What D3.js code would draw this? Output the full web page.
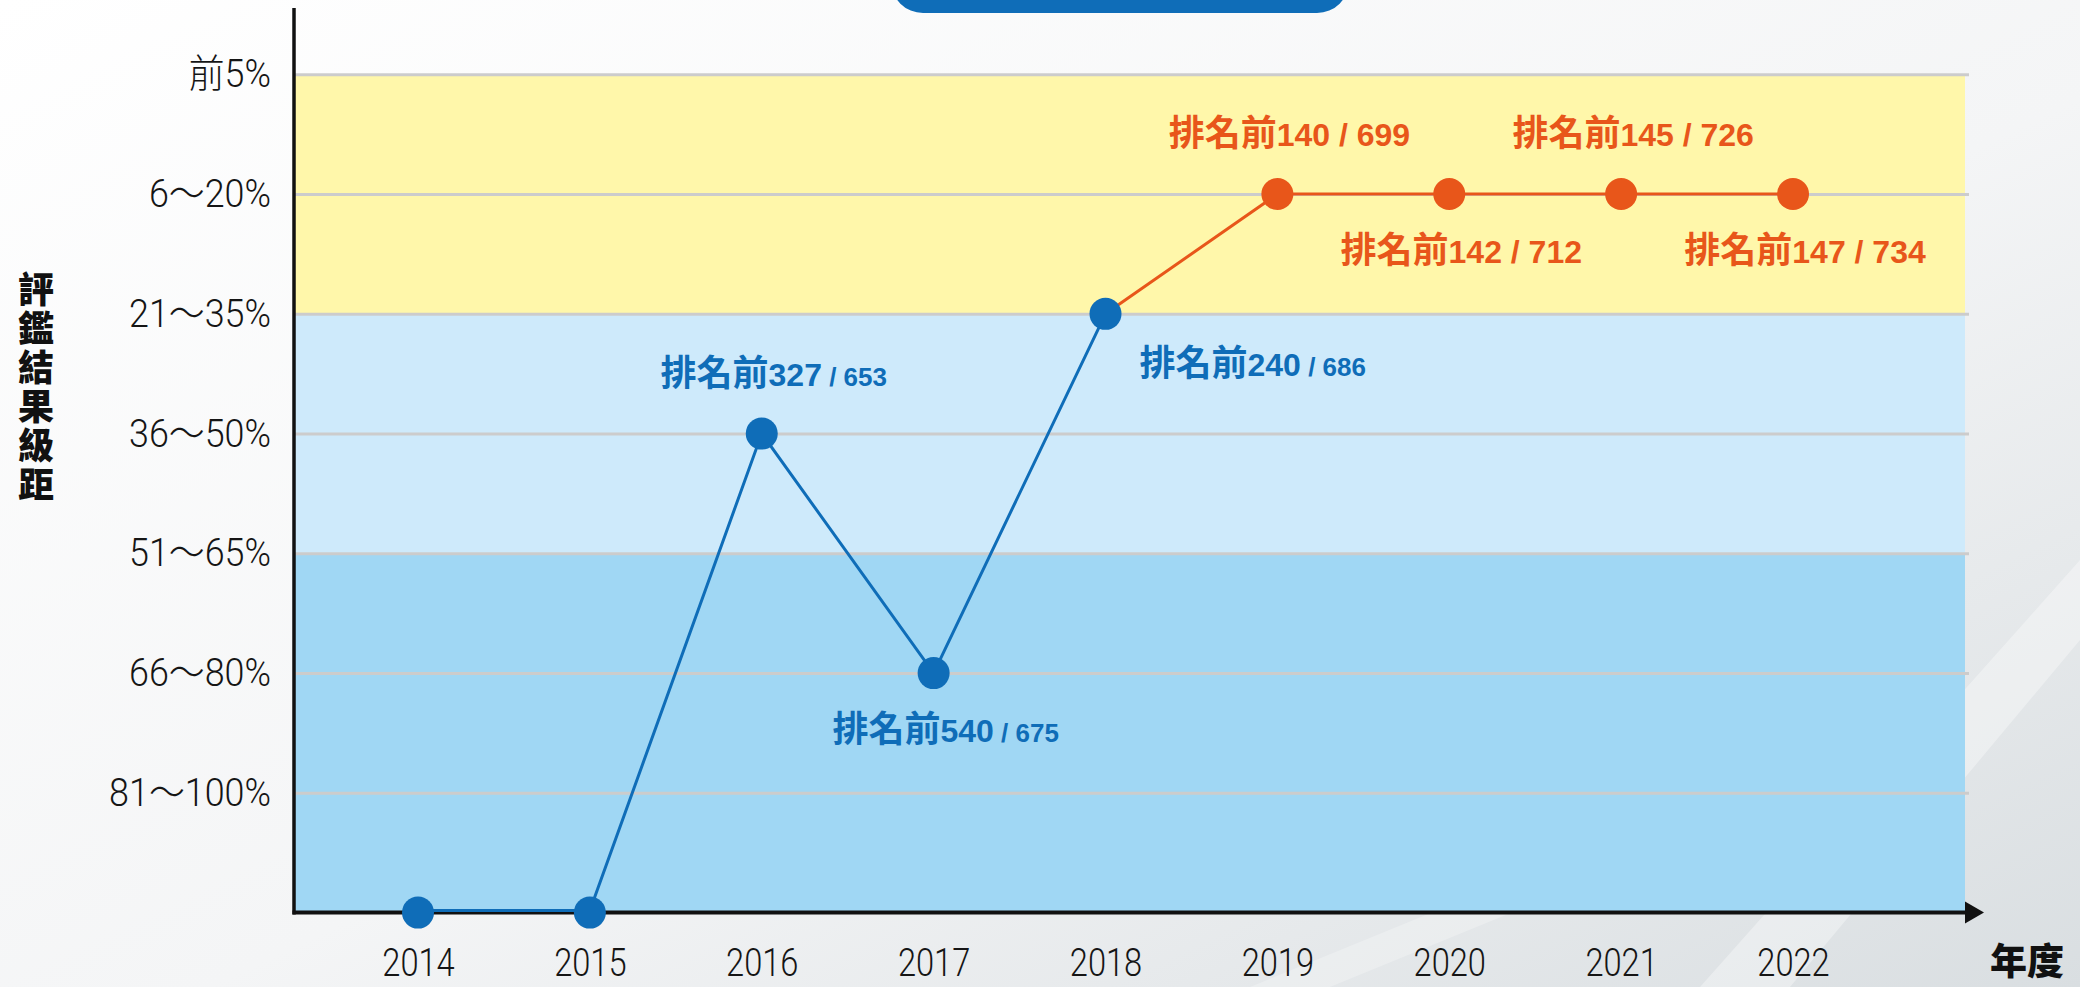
<!DOCTYPE html>
<html>
<head>
<meta charset="utf-8">
<script src="https://cdn.jsdelivr.net/npm/d3@7"></script>
<style>
  html, body { margin: 0; padding: 0; background: #ffffff; }
  svg { display: block; }
</style>
</head>
<body>
<div id="chart"></div>
<script>
// ---- data ----
const years = ['2014', '2015', '2016', '2017', '2018', '2019', '2020', '2021', '2022'];
// level labels from bottom (worst) to top (best)
const levelLabels = ['81～100%', '66～80%', '51～65%', '36～50%', '21～35%', '6～20%', '前5%'];
// level reached each year (null = not ranked, sits on the x axis)
const yearLevels = [null, null, '36～50%', '66～80%', '21～35%', '6～20%', '6～20%', '6～20%', '6～20%'];
const rankPlaces = [null, null, 327, 540, 240, 140, 142, 145, 147];
const rankTotals = [null, null, 653, 675, 686, 699, 712, 726, 734];
const orangeFrom = '2019';   // years from here on are drawn in orange

// where each label sits relative to its point
const labelSide = [null, null, 'above', 'below', 'right', 'above', 'below', 'above', 'below'];

class RankLineChart {
    constructor(_config) {
        this.config = {
            parentElement: _config.parentElement,
            containerWidth: 2080,
            containerHeight: 987,
            axisX: 294,
            axisY: 912.6,
            topY: 74.3,
            bandRight: 1965,
            gridRight: 1969,
            arrowTip: 1984,
            xFirst: 418,
            xLast: 1793,
            ySqueeze: 0.92,     // horizontal squeeze to mimic the condensed tick font
            xSqueeze: 0.86,
            blue: '#0f6db8',
            orange: '#e8561a'
        };
        this.initVis();
    }

    initVis() {
        let vis = this;
        const c = vis.config;

        vis.svg = d3.select(c.parentElement)
            .append('svg')
            .attr('width', c.containerWidth)
            .attr('height', c.containerHeight);

        // background gradient
        const defs = vis.svg.append('defs');
        const grad = defs.append('linearGradient')
            .attr('id', 'bg')
            .attr('x1', '0').attr('y1', '0')
            .attr('x2', '1').attr('y2', '1');
        grad.append('stop').attr('offset', '0%').attr('stop-color', '#ffffff');
        grad.append('stop').attr('offset', '55%').attr('stop-color', '#f4f5f6');
        grad.append('stop').attr('offset', '100%').attr('stop-color', '#d9dee1');

        vis.svg.append('rect')
            .attr('width', c.containerWidth)
            .attr('height', c.containerHeight)
            .attr('fill', 'url(#bg)');

        // faint diagonal streaks in the lower right
        vis.svg.append('path')
            .attr('d', 'M1700,987 L2080,560 L2080,640 L1790,987 Z')
            .attr('fill', '#ffffff').attr('opacity', 0.35);
        vis.svg.append('path')
            .attr('d', 'M1250,987 L1560,860 L1640,860 L1330,987 Z')
            .attr('fill', '#ffffff').attr('opacity', 0.25);

        // title box cut off at the top
        vis.svg.append('rect')
            .attr('x', 891).attr('y', -60)
            .attr('width', 458).attr('height', 73)
            .attr('rx', 32)
            .attr('fill', c.blue);

        // scales
        vis.xScale = d3.scalePoint()
            .domain(years)
            .range([c.xFirst, c.xLast]);

        vis.yScale = d3.scalePoint()
            .domain([''].concat(levelLabels))
            .range([c.axisY, c.topY]);

        const y = vis.yScale;

        // coloured bands
        const bands = [
            { from: '前5%', to: '21～35%', color: '#fff7aa' },
            { from: '21～35%', to: '51～65%', color: '#ceeafb' },
            { from: '51～65%', to: '', color: '#a0d7f4' }
        ];
        vis.svg.selectAll('.band')
            .data(bands)
            .enter().append('rect')
            .attr('class', 'band')
            .attr('x', c.axisX)
            .attr('y', d => y(d.from))
            .attr('width', c.bandRight - c.axisX)
            .attr('height', d => y(d.to) - y(d.from))
            .attr('fill', d => d.color);

        const tickFont = "Roboto, 'Noto Sans CJK TC', sans-serif";

        // y axis with gridlines
        vis.yAxis = d3.axisLeft(y)
            .tickValues(levelLabels)
            .tickSizeInner(-(c.gridRight - c.axisX))
            .tickSizeOuter(0)
            .tickPadding(23);

        const yG = vis.svg.append('g')
            .attr('class', 'y-axis')
            .attr('transform', `translate(${c.axisX},0)`)
            .call(vis.yAxis);
        yG.select('.domain').remove();
        yG.selectAll('.tick line')
            .attr('stroke', '#cccccc')
            .attr('stroke-width', 3);
        yG.selectAll('.tick text')
            .attr('fill', '#151515')
            .attr('x', -23 / c.ySqueeze)
            .attr('transform', `scale(${c.ySqueeze},1)`)
            .style('font-family', tickFont)
            .style('font-weight', 300)
            .style('font-size', '39px');

        // x axis labels
        vis.xAxis = d3.axisBottom(vis.xScale)
            .tickSize(0)
            .tickPadding(36);
        const xG = vis.svg.append('g')
            .attr('class', 'x-axis')
            .attr('transform', `translate(0,${c.axisY})`)
            .call(vis.xAxis);
        xG.select('.domain').remove();
        xG.selectAll('.tick text')
            .attr('fill', '#151515')
            .attr('transform', `scale(${c.xSqueeze},1)`)
            .style('font-family', tickFont)
            .style('font-weight', 300)
            .style('font-size', '38px');

        // axis lines
        vis.svg.append('line')
            .attr('x1', c.axisX).attr('x2', c.axisX)
            .attr('y1', 8).attr('y2', c.axisY + 2)
            .attr('stroke', '#111').attr('stroke-width', 3.5);
        vis.svg.append('line')
            .attr('x1', c.axisX - 1.5).attr('x2', c.bandRight + 2)
            .attr('y1', c.axisY).attr('y2', c.axisY)
            .attr('stroke', '#111').attr('stroke-width', 4);
        vis.svg.append('path')
            .attr('d', `M${c.bandRight},${c.axisY - 11} L${c.arrowTip},${c.axisY} L${c.bandRight},${c.axisY + 11} Z`)
            .attr('fill', '#111');

        // axis titles
        vis.svg.append('text')
            .attr('x', 36)
            .attr('y', 388)
            .attr('text-anchor', 'middle')
            .style('writing-mode', 'vertical-rl')
            .style('font-family', "'Noto Sans CJK TC', sans-serif")
            .style('font-weight', 900)
            .style('font-size', '36px')
            .style('letter-spacing', '3px')
            .attr('fill', '#111')
            .text('評鑑結果級距');

        vis.svg.append('text')
            .attr('x', 2027)
            .attr('y', 975)
            .attr('text-anchor', 'middle')
            .style('font-family', "'Noto Sans CJK TC', sans-serif")
            .style('font-weight', 900)
            .style('font-size', '37px')
            .attr('fill', '#111')
            .text('年度');

        vis.updateVis();
    }

    updateVis() {
        let vis = this;
        const c = vis.config;

        vis.points = years.map((yr, i) => ({
            year: yr,
            level: yearLevels[i] || '',
            place: rankPlaces[i],
            total: rankTotals[i],
            side: labelSide[i],
            orange: years.indexOf(yr) >= years.indexOf(orangeFrom)
        }));

        const line = d3.line()
            .x(d => vis.xScale(d.year))
            .y(d => vis.yScale(d.level) - (d.level === '' ? 2 : 0));

        const split = years.indexOf(orangeFrom);
        const bluePts = vis.points.slice(0, split);
        const orangePts = vis.points.slice(split - 1);

        vis.svg.append('path')
            .datum(bluePts)
            .attr('d', line)
            .attr('fill', 'none')
            .attr('stroke', c.blue)
            .attr('stroke-width', 3);

        vis.svg.append('path')
            .datum(orangePts)
            .attr('d', line)
            .attr('fill', 'none')
            .attr('stroke', c.orange)
            .attr('stroke-width', 3);

        vis.svg.selectAll('.dot')
            .data(vis.points)
            .enter().append('circle')
            .attr('class', 'dot')
            .attr('cx', d => vis.xScale(d.year))
            .attr('cy', d => vis.yScale(d.level))
            .attr('r', 16)
            .attr('fill', d => d.orange ? c.orange : c.blue);

        // rank labels
        const labelled = vis.points.filter(d => d.place !== null);
        const labels = vis.svg.selectAll('.rank-label')
            .data(labelled)
            .enter().append('text')
            .attr('class', 'rank-label')
            .attr('x', d => vis.xScale(d.year) + (d.side === 'right' ? 34 : 12))
            .attr('y', d => {
                const py = vis.yScale(d.level);
                if (d.side === 'above') return py - 48;
                if (d.side === 'below') return py + 69;
                return py + 62;
            })
            .attr('text-anchor', d => d.side === 'right' ? 'start' : 'middle')
            .attr('fill', d => d.orange ? c.orange : c.blue)
            .style('font-weight', 700);

        labels.append('tspan')
            .style('font-family', "'Noto Sans CJK TC', sans-serif")
            .style('font-size', '36px')
            .text('排名前');
        labels.append('tspan')
            .style('font-family', "'Liberation Sans', Roboto, sans-serif")
            .style('font-size', '32px')
            .text(d => d.place);
        labels.append('tspan')
            .style('font-family', "'Liberation Sans', Roboto, sans-serif")
            .style('font-size', d => d.orange ? '32px' : '26px')
            .text(d => ` / ${d.total}`);
    }
}

new RankLineChart({ parentElement: '#chart' });
</script>
</body>
</html>
